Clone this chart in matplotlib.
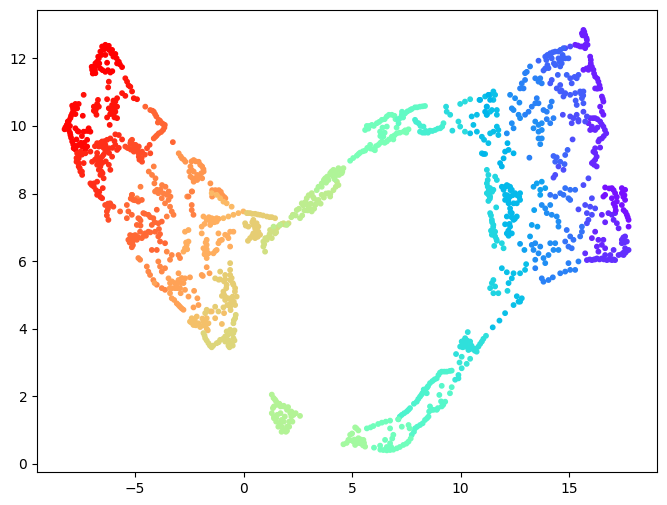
import matplotlib
matplotlib.use("Agg")
import matplotlib.pyplot as plt

# umap embedding, grouped by colour value (rainbow 0..1)
red_top = [(-6.37,12.4),(-6.52,12.35),(-6.21,12.37),(-6.6,12.2),(-6.06,12.25),(-5.91,12.13),(-6.67,12.0),(-5.75,11.9),(-6.83,11.85),(-6.9,11.7),(-5.6,11.74),(-6.75,11.78),(-6.37,12.1),(-6.29,11.87),(-6.37,11.6),(-6.14,11.58),(-5.83,11.85),(-6.83,11.56),(-6.98,11.66),(-6.45,12.3),(-6.3,12.3),
    (-6.45,12.25),(-6.7,12.05),(-6.75,11.9),(-6.95,11.55),(-6.65,11.85),(-6.6,11.7),(-6.1,12.15),(-6.0,12.05),(-5.85,12.0),(-5.7,11.82),(-6.5,11.65),(-6.25,11.65),(-6.05,11.62),(-7.0,11.75),(-6.85,11.65),(-6.55,12.1),(-6.2,12.25)]
red_side = [(-5.45,11.41),(-5.37,11.31),(-5.22,11.16),(-5.14,11.02),(-5.6,10.97),(-5.45,10.89),(-5.06,10.82),(-4.91,10.79),(-6.21,11.31),(-6.24,11.14),(-5.3,11.2)]
red_mid = [(-7.37,10.92),(-6.71,10.77),(-6.29,10.79),(-5.83,10.82),(-5.91,10.72),(-6.06,10.62),(-5.83,10.57),(-6.21,10.52),(-5.91,10.42),(-5.99,10.33),(-6.29,10.25),(-5.83,10.23),(-6.17,10.03),(-6.9,10.57),(-6.67,10.57),(-6.83,10.42),(-6.78,10.33),(-6.0,10.5),
    (-6.0,10.75),(-5.95,10.6),(-6.1,10.45),(-5.9,10.55),(-6.15,10.35),(-5.95,10.25),(-6.8,10.5),(-6.75,10.65),(-6.9,10.45)]
red_left = [(-7.75,10.65),(-7.6,10.65),(-7.86,10.52),(-7.9,10.37),(-7.67,10.52),(-7.98,10.23),(-7.41,10.3),(-8.1,10.13),(-8.21,9.96),(-8.06,9.88),(-7.98,9.73),(-7.75,9.93),(-7.6,9.83),(-7.37,9.83),(-7.14,9.93),(-7.06,9.83),(-7.9,9.54),(-7.83,9.34),(-7.6,9.44),(-7.44,9.39),(-7.21,9.59),(-7.21,9.39),(-8.15,10.03),(-8.0,10.0),(-7.85,10.45),(-7.7,9.4),
    (-7.8,10.6),(-7.95,10.3),(-8.05,10.15),(-8.1,10.05),(-8.25,9.9),(-8.1,9.95),(-8.0,9.8),(-7.95,9.65),(-7.85,9.45),(-7.7,9.6),(-7.75,9.3),(-7.5,9.5),(-7.35,9.5),(-7.3,9.3),(-7.65,9.85),(-7.45,9.7),(-7.2,9.85),(-7.9,10.6),(-7.75,10.35)]
red_low = [(-7.67,9.19),(-7.52,9.24),(-7.29,9.19),(-7.06,9.24),(-7.6,9.04),(-7.7,8.94),(-7.37,8.9),(-7.6,8.8),(-7.52,8.65),(-7.44,8.55),(-7.6,9.1),(-7.45,9.15),(-7.7,9.05),(-7.55,8.75),(-7.45,8.65),(-7.6,8.9)]
red_centre = [(-6.75,9.49),(-6.52,9.54),(-6.29,9.59),(-6.14,9.63),(-6.67,9.39),(-6.37,9.44),(-6.21,9.34),(-5.91,9.44),(-5.83,9.29),(-6.37,9.24),(-6.52,9.09),(-6.06,9.09),(-6.75,9.09),(-6.98,8.94),(-6.75,8.85),(-6.52,8.9),(-6.21,8.85),(-6.14,8.7),(-6.67,8.7),(-6.6,8.55),(-6.45,8.45),(-6.49,8.16),(-7.06,8.3),(-6.75,8.35),(-6.9,8.2),(-6.75,7.96),(-6.52,7.86),(-5.91,9.75),(-5.75,9.73),(-5.6,9.6),
    (-6.6,9.5),(-6.4,9.55),(-6.55,9.4),(-6.45,9.35),(-6.3,9.25),(-6.45,9.15),(-6.6,9.0),(-6.7,8.95),(-6.6,8.8),(-6.55,8.65),(-6.5,8.6),(-6.35,8.95),(-6.2,9.2),(-5.95,9.55),(-6.85,9.4),(-6.75,9.2),(-6.85,9.0),(-6.9,8.3),(-6.8,8.1),(-6.65,8.05),(-6.6,7.9),(-7.0,8.25),(-5.75,9.35),(-6.05,9.35)]
orange_red = [(-5.45,9.39),(-5.29,9.34),(-5.14,9.59),(-5.22,9.49),(-4.98,9.44),(-4.83,9.39),(-5.06,9.24),(-4.68,9.24),(-4.45,9.34),(-4.33,9.44),(-4.83,9.09),(-4.68,8.94),(-4.3,9.19),(-6.15,7.71),(-6.0,7.61),(-6.38,7.66),(-6.3,7.47),(-6.23,7.22),
    (-5.35,9.35),(-5.2,9.3),(-5.1,9.45),(-5.05,9.35),(-4.9,9.3),(-4.75,9.2),(-4.8,9.0),(-4.7,9.05),(-4.55,9.15),(-4.85,9.2),(-5.2,9.55),(-6.1,7.65),(-6.25,7.55),(-6.3,7.35),(-6.25,7.7)]
orange_arc = [(-4.53,10.57),(-4.3,10.47),(-4.14,10.42),(-4.02,10.28),(-3.91,10.18),(-3.76,10.08),(-3.63,10.03),(-3.71,9.88),(-3.91,9.78),(-4.06,9.68),(-4.14,9.63),(-3.26,9.52),(-4.2,10.45),(-4.08,10.35),(-3.85,10.15),(-3.7,10.05),(-3.65,9.95),(-3.8,9.82),(-4.0,9.72),(-3.95,10.1)]
orange_a = [(-4.14,8.8),(-4.37,8.65),(-4.22,8.55),(-4.06,8.45),(-4.11,8.3),(-4.75,8.2),(-5.14,7.96),(-4.91,7.86),(-3.76,8.25),(-3.6,8.2),(-3.99,8.11),(-3.83,8.11),(-3.45,8.06),(-3.37,7.91),(-3.68,8.0)]
orange_b = [(-2.99,9.19),(-2.84,9.04),(-2.68,8.94),(-2.3,8.99),(-2.07,8.94),(-1.91,8.8),(-1.84,8.65),(-2.45,8.8),(-2.3,8.65),(-2.45,8.5),(-2.14,8.55),(-1.91,8.45),(-2.3,8.35),(-2.14,8.4),(-1.53,8.3),(-1.45,8.1),(-1.14,8.1),(-0.99,7.96),(-0.84,7.86),(-1.45,7.91),(-2.37,8.06),(-2.6,7.91),
    (-2.75,9.0),(-2.4,8.95),(-2.2,8.95),(-2.0,8.85),(-1.85,8.72),(-1.95,8.6),(-2.05,8.5),(-2.2,8.45),(-2.35,8.45),(-2.5,8.65),(-2.9,9.1),(-2.4,8.7),(-1.3,8.1),(-1.05,8.05),(-0.9,7.9)]
orange_blob = [(-5.23,6.77),(-5.0,6.77),(-5.31,6.63),(-5.15,6.53),(-5.15,6.41),(-4.92,6.63),(-4.69,6.68),(-4.54,6.82),(-4.39,6.87),(-4.77,6.87),(-4.92,7.07),(-4.85,7.27),(-4.62,7.42),(-4.39,7.37),(-4.16,7.27),(-4.23,7.07),(-4.0,7.52),(-4.08,6.87),(-3.93,7.12),(-3.77,7.17),(-3.93,6.73),(-3.85,6.58),(-4.0,6.33),(-4.23,6.33),(-3.62,6.53),(-5.15,7.96),(-5.08,7.81),(-4.85,7.76),(-4.69,7.81),(-5.38,7.66),(-5.69,7.47),(-5.31,7.47),(-5.15,7.37),(-5.38,7.27),
    (-5.1,6.75),(-5.2,6.65),(-5.1,6.6),(-5.25,6.55),(-5.05,6.7),(-4.85,6.7),(-4.6,6.75),(-4.5,6.75),(-4.3,6.85),(-5.1,6.47),(-4.95,6.75),(-4.3,7.3),(-4.55,7.4),(-4.75,7.2),(-4.1,7.15),(-3.9,6.95),(-3.85,6.8),(-5.0,7.8),(-5.2,7.85),(-4.8,7.25),(-4.75,7.05)]
orange_c = [(-3.54,7.96),(-3.46,7.81),(-3.62,7.71),(-3.39,7.61),(-3.31,7.47),(-3.23,7.37),(-3.54,7.32),(-3.77,7.86),(-3.93,8.01),(-4.08,8.06),(-2.54,7.91),(-2.39,8.06),(-2.39,7.66),(-2.39,7.51),(-2.31,7.37)]
orange_d = [(-4.85,6.09),(-4.77,6.04),(-3.54,6.28),(-3.31,6.18),(-3.39,6.04),(-3.0,6.18),(-2.93,6.09),(-3.93,5.99),(-3.85,5.84),(-3.77,5.69),(-3.62,5.79),(-4.46,5.84),(-4.39,5.69),(-4.31,5.59),(-4.16,5.44),(-4.0,5.3),(-3.77,5.2),(-3.62,5.15)]
peach_a = [(-3.46,5.49),(-3.39,5.35),(-3.16,5.35),(-3.0,5.64),(-3.0,5.44),(-2.7,5.49),(-2.47,5.52),(-2.77,5.35),(-2.93,5.2),(-2.7,5.15),(-3.16,5.2),(-3.39,5.05),(-3.31,4.9),(-3.08,4.75),(-2.93,4.65),(-2.77,4.56),(-2.54,4.95),(-2.28,5.12),(-2.13,4.9),(-2.31,4.63),(-2.08,4.7),(-1.93,5.59),(-1.7,5.82),(-1.57,5.64),(-1.88,5.56),
    (-3.3,5.4),(-3.1,5.3),(-2.9,5.35),(-2.85,5.5),(-3.05,5.2),(-2.9,5.05),(-3.2,4.85),(-3.0,4.7),(-2.85,4.6),(-3.3,5.2),(-3.4,5.2),(-4.1,5.35)]
peach_b = [(-2.7,6.87),(-2.54,6.92),(-2.54,6.58),(-2.62,6.48),(-2.7,6.38),(-2.77,6.28),(-1.85,6.38),(-1.7,6.63),(-1.7,6.48),(-1.77,6.28),(-1.62,6.23),(-1.7,6.09),(-1.39,6.23),(-1.24,6.33),(-1.16,6.53),(-1.0,6.63),(-0.85,6.78),(-0.62,6.87),(-0.47,6.87),(-0.7,6.68),(-0.62,6.43),(-1.16,6.82),(-1.85,7.32),(-1.7,7.22),(-1.47,7.27),(-1.24,7.17),(-1.93,7.02),(-1.93,6.82),(-1.54,7.07),(-1.24,7.27),
    (-1.7,7.25),(-1.55,7.2),(-1.35,7.15),(-1.15,7.25),(-1.8,7.1),(-1.4,7.25),(-1.6,7.3),(-1.75,6.55),(-1.7,6.35),(-1.8,6.2),(-1.3,6.3),(-1.1,6.6),(-0.75,6.75),(-2.6,6.35),(-2.65,6.55)]
peach_c = [(-0.93,7.27),(-0.7,7.32),(-0.47,7.37),(-0.24,7.42),(-0.01,7.47),(-1.47,8.01),(-1.24,7.96),(-1.08,7.86),(-0.93,7.76),(-0.78,7.71),(-0.55,7.61)]
sand_a = [(-0.62,5.94),(-0.62,5.74),(-0.62,5.59),(-0.85,5.59),(-1.08,5.69),(-1.31,5.49),(-1.08,5.46),(-0.85,5.46),(-0.62,5.44),(-0.47,5.3),(-0.39,5.2),(-0.78,5.3),(-0.93,5.1),(-1.0,4.97),(-0.85,4.95),(-0.7,4.9),(-0.32,4.95),(-0.55,4.8),(-0.39,4.7),(-0.62,4.65),(-0.93,4.63),(-1.31,4.65),(-1.16,4.51),(-1.54,4.51),(-1.77,4.46),(-1.7,4.56),
    (-0.55,5.5),(-0.5,5.35),(-0.8,5.2),(-0.9,5.0),(-0.85,4.85),(-0.6,4.75),(-0.45,4.8),(-0.5,4.95),(-0.6,4.55),(-0.75,4.7),(-0.9,5.4),(-1.15,5.45),(-0.4,5.1)]
sand_b = [(-2.39,4.31),(-2.16,4.36),(-2.47,4.21),(-2.31,4.11),(-2.08,4.16),(-1.85,4.21),(-1.7,4.31),(-1.62,4.16),(-1.7,4.0),(-1.31,4.31),(-1.0,4.14),(-0.9,4.46),(-1.47,4.51),(-2.25,4.25),(-2.2,4.1),(-2.0,4.05),(-1.85,4.1),(-1.75,4.15),(-1.9,4.3),(-2.4,4.18),(-1.65,3.95)]
sand_c = [(-1.85,3.87),(-1.77,3.72),(-1.62,3.57),(-1.47,3.45),(-1.24,3.57),(-1.08,3.67),(-0.85,3.77),(-0.78,3.92),(-0.85,3.62),(-0.65,3.45),(-0.55,3.57),(-0.47,3.72),(-0.47,3.87),(-0.62,3.97),(-0.47,4.16),(-0.39,4.31),(-0.36,4.41),
    (-1.8,3.8),(-1.7,3.65),(-1.55,3.5),(-1.4,3.5),(-1.15,3.6),(-0.95,3.7),(-0.7,3.5),(-0.5,3.5),(-0.42,3.65),(-0.55,3.85),(-0.75,3.8),(-0.42,3.95),(-0.68,3.65),(-0.45,4.25)]
yellow_a = [(0.15,7.42),(0.3,7.42),(0.53,7.4),(0.76,7.37),(1.07,7.32),(1.3,7.3),(1.45,7.27),(0.07,7.12),(0.22,7.02),(0.45,7.22),(0.45,7.07),(0.53,6.97),(0.68,7.02),(0.68,6.87),(0.45,6.82),(0.3,6.68),(0.53,6.68),(0.76,6.78),
    (0.2,7.42),(0.4,7.4),(0.65,7.38),(0.9,7.35),(1.2,7.3),(0.4,7.15),(0.55,6.85),(0.6,7.12),(0.1,7.05),(0.4,6.75),(0.2,6.6),(0.65,6.72)]
yellow_b = [(0.91,6.58),(1.07,6.63),(0.91,6.43),(0.99,6.28),(1.3,6.68),(1.45,6.82),(1.53,6.97),(1.68,7.07),(1.22,6.92),(1.37,6.97),(1.84,7.12),(2.07,7.12),(2.27,7.37),(0.95,6.5),(1.0,6.68),(1.15,6.72),(1.2,6.8),(1.4,6.88),(1.5,6.85),(1.6,7.02),(1.75,7.1),(1.9,7.08)]
lime_a = [(1.38,7.02),(1.68,7.07),(1.99,7.07),(2.3,7.37),(2.6,7.27),(2.45,7.51),(2.68,7.71),(2.91,7.86),(3.14,8.01),(2.99,7.61),(3.14,7.47),(3.3,7.66),(3.45,7.81),(3.6,7.96),(3.91,8.01),(4.14,8.1),(4.37,8.25),(3.99,7.91),(2.8,7.5),(3.25,7.85),
    (2.2,7.3),(2.4,7.35),(2.55,7.55),(2.75,7.65),(2.85,7.75),(3.0,7.95),(3.2,7.9),(3.05,7.55),(3.25,7.55),(3.35,7.7),(3.55,7.7),(3.7,7.88),(3.8,8.0),(4.0,8.0),(4.25,8.2),(4.3,8.35),(2.95,7.5),(2.7,7.35),(2.9,7.7),(3.1,7.7)]
lime_b = [(3.37,8.1),(3.6,8.3),(3.76,8.45),(3.99,8.6),(4.14,8.7),(4.37,8.75),(4.6,8.75),(4.52,8.6),(4.29,8.55),(4.14,8.5),(3.91,8.4),(3.45,8.2),(3.7,8.4),(3.85,8.5),(4.05,8.65),(4.25,8.65),(4.45,8.7),(4.4,8.55),(4.2,8.42),(3.8,8.32),(4.55,8.65),(4.05,8.55),(3.6,8.2)]
green_a = [(4.91,8.97),(5.22,9.12),(5.37,9.21),(5.6,9.27),(5.83,9.44),(5.98,9.31),(6.21,9.44),(6.37,9.54),(6.6,9.54),(6.83,9.68),(7.06,9.78),(7.37,9.83),(7.6,9.9),(5.05,9.05),(5.5,9.25),(5.7,9.35),(6.1,9.4),(6.3,9.5),(6.5,9.5),(6.7,9.6),(6.95,9.72),(7.2,9.8),(7.45,9.87),(7.5,9.8),(6.9,9.6),(5.3,9.17),(5.85,9.33),(6.05,9.28)]
green_b = [(5.6,9.88),(5.68,10.0),(5.91,10.03),(6.14,10.08),(6.37,10.18),(6.6,10.28),(6.83,10.33),(6.29,9.83),(6.44,9.68),(6.6,9.98),(5.75,9.92),(5.8,10.0),(6.0,10.0),(6.25,10.12),(6.5,10.2),(6.7,10.33),(6.95,10.3),(6.4,9.95),(6.5,9.8),(6.3,9.7),(7.0,10.2),(7.05,9.95)]
mint_a = [(7.14,10.08),(7.21,10.23),(7.44,10.37),(7.67,10.47),(7.9,10.55),(8.13,10.57),(8.36,10.59),(7.29,10.33),(7.3,10.42),(7.55,10.43),(7.75,10.5),(8.0,10.55),(8.25,10.58),(7.1,10.2),(7.35,10.25)]
mint_b = [(7.9,10.18),(8.06,10.08),(8.29,9.98),(8.13,9.83),(8.36,9.8),(8.59,9.86),(8.83,9.88),(9.06,9.93),(9.21,10.08),(7.95,10.12),(8.15,10.0),(8.4,9.85),(8.7,9.85),(8.95,9.92),(9.15,9.98),(8.25,9.8),(8.5,9.8)]
teal_a = [(9.33,10.57),(9.36,10.42),(9.52,10.33),(9.62,9.86),(9.9,10.13),(9.98,9.98),(10.2,9.83),(9.98,10.65),(10.2,10.72),(10.44,10.79)]
cyan_a = [(10.51,10.28),(10.75,10.33),(10.59,10.03),(10.44,9.78),(10.75,9.83),(10.98,9.68),(11.08,9.59),(11.28,9.49),(10.98,9.19),(11.13,9.17),(10.87,10.77),(11.13,10.87),(11.36,10.92),(11.51,10.77),(11.2,10.57),(11.36,10.42),(11.67,10.47),(11.2,10.33),(11.51,9.83),(11.36,9.78),(11.74,9.88),(11.51,11.02),(11.59,10.92),(11.44,10.47),(11.67,10.33),(11.67,9.98),(11.74,9.73)]
purple_top = [(15.66,12.84),(15.74,12.69),(15.59,12.74),(15.82,12.54),(15.85,12.4),(15.74,12.3),(15.51,12.35),(15.28,12.4),(15.97,12.05),(16.0,11.85),(16.12,11.66),(16.2,11.46),(16.35,11.31),(16.43,11.11),(16.2,11.11),(15.66,11.66),(15.89,11.66),(16.51,10.87),(16.58,10.72),(16.43,10.57),(16.51,10.42),(16.58,10.33),
    (15.7,12.78),(15.62,12.68),(15.8,12.6),(15.75,12.4),(15.6,12.35),(15.4,12.38),(16.0,11.95),(16.05,11.75),(16.15,11.55),(16.3,11.4),(16.4,11.2),(16.3,11.1),(15.8,11.7),(16.55,10.8),(15.95,11.75)]
violet_a = [(15.97,10.23),(16.2,10.23),(16.43,10.13),(16.58,9.98),(16.71,9.78),(16.51,9.63),(16.35,9.54),(16.05,9.98),(15.89,10.08),(16.2,9.88),(15.97,9.88),(16.2,9.34),(16.43,9.36),(16.12,9.24),(16.27,9.09),(16.12,8.94),(16.27,8.8),(16.05,8.9),(16.1,10.23),(16.3,10.2),(16.5,10.05),(16.65,9.88),(16.6,9.7),(16.4,9.6),(16.1,9.9),(16.3,9.95),(16.2,9.2),(16.2,9.0),(16.15,8.85)]
indigo_a = [(15.66,10.42),(15.82,10.28),(15.74,10.13),(15.35,10.33),(15.05,10.28),(15.2,10.23),(15.43,10.18),(15.12,10.08),(15.43,10.13),(14.71,10.33),(15.16,9.6),(15.05,12.35),(14.82,12.3),(15.43,7.53),(15.74,7.66),(15.97,7.61),(16.2,7.56),(15.82,7.42),(16.05,7.37),(15.89,7.22),(15.82,7.12),(16.05,7.86),(15.66,8.25),(14.74,8.7),(14.51,8.8),(14.36,8.55),(14.28,8.47),(15.89,8.45)]
blue_top = [(13.59,11.93),(13.9,12.05),(14.13,12.15),(14.36,12.2),(14.51,12.2),(14.74,12.3),(14.2,12.0),(14.51,12.0),(14.82,12.0),(14.97,12.0),(14.66,11.85),(14.59,11.76),(14.05,11.71),(13.82,11.64),(14.36,11.8),(14.48,11.51),(14.89,11.51),(14.93,9.29),(14.82,9.14),(14.28,9.11),(14.43,9.07),(14.59,8.94),(14.79,8.87),(14.36,8.94),
    (14.0,12.1),(14.25,12.18),(14.6,12.25),(14.15,12.05),(13.95,11.95),(14.55,11.9),(14.7,12.1),(14.3,11.85),(14.0,11.8),(13.9,11.7),(14.7,12.0)]
blue_mid = [(14.13,11.26),(14.2,11.36),(14.59,11.21),(14.43,11.11),(14.59,11.02),(14.82,10.97),(15.05,10.92),(14.74,10.87),(15.12,11.26),(15.05,11.41),(15.35,11.41),(15.43,11.51),(15.66,11.02),(15.51,11.02),(15.59,10.82),(15.66,10.67),(15.35,10.62),(15.28,10.97),(14.8,10.95),(14.65,11.05),(15.3,10.75),(15.55,10.95),(15.65,10.9),(15.25,11.45)]
blue_left = [(13.2,11.76),(13.05,11.6),(12.97,11.56),(12.97,11.36),(12.82,11.26),(12.74,11.11),(12.9,11.11),(13.44,11.41),(13.67,11.41),(13.74,11.26),(13.59,11.31),(13.17,9.06),(13.51,10.82),(13.44,10.67),(13.28,10.57),(13.13,10.42),(12.97,10.33),(13.59,10.67),(14.2,10.72),(14.13,10.57),(13.97,10.42),(13.82,10.47),(14.28,10.23),(13.97,10.2),(14.13,10.08)]
azure_a = [(12.44,10.47),(12.36,10.52),(12.67,10.33),(12.74,10.23),(12.28,10.92),(12.51,10.82),(12.71,10.69),(12.36,10.08),(12.44,9.93),(12.13,9.78),(13.44,10.13),(13.59,10.03),(13.74,10.08),(13.36,9.93),(13.59,9.83),(13.74,9.88),(13.59,9.63),(13.74,9.63),(13.67,9.46)]
azure_b = [(12.16,9.49),(12.21,9.29),(12.44,9.19),(12.05,9.24),(11.98,9.04),(11.82,8.9),(11.9,8.8),(11.05,9.17),(10.9,10.77),(11.28,10.92),(11.36,10.77),(11.21,10.57),(11.13,10.42),(11.21,10.33)]
cyan_left = [(11.21,8.7),(11.28,8.55),(11.21,8.3),(11.36,8.16),(11.21,8.01),(11.36,7.91),(11.28,7.78),(11.51,8.11),(11.59,8.5),(11.67,8.4),(11.64,7.59),(11.36,7.42),(11.44,7.22),(11.51,7.07),(11.59,6.87),(11.44,6.78),(11.59,6.73),(11.67,6.6),(11.9,6.53),(11.55,6.45),(11.98,6.38),(11.3,8.1),(11.4,6.9),
    (11.25,8.4),(11.25,8.2),(11.3,7.95),(11.35,7.85),(11.4,7.35),(11.45,7.15),(11.5,7.0),(11.55,6.8),(11.65,6.65),(11.3,8.0),(11.45,8.05)]
cyan_b = [(11.9,8.2),(12.13,8.25),(12.28,8.2),(11.98,8.11),(12.36,8.11),(12.05,7.96),(12.28,7.91),(12.51,8.01),(12.74,8.01),(12.74,7.81),(12.05,7.81),(12.21,7.71),(12.44,7.71),(12.59,7.71),(12.28,7.56),(12.36,7.42),(12.13,7.32),(12.59,7.32),(12.44,7.22),(12.05,7.09),(12.28,7.02),(12.13,6.82),(12.36,6.82),(12.21,6.75),
    (12.05,8.2),(12.2,8.22),(12.3,8.1),(12.15,7.95),(12.4,7.95),(12.6,7.95),(12.7,7.9),(12.2,7.8),(12.35,7.3),(12.25,7.1),(12.2,6.9),(12.3,7.45),(12.5,7.25)]
sky_a = [(13.39,7.51),(13.28,7.07),(13.54,7.02),(13.2,6.73),(12.74,6.51),(12.94,6.33),(13.36,8.2),(13.51,8.3),(13.74,8.35),(13.67,8.11),(13.9,8.16),(13.67,7.96)]
royal_a = [(14.13,7.96),(14.36,7.91),(14.59,8.01),(14.82,8.16),(15.05,8.11),(15.28,8.11),(14.74,7.96),(15.05,7.81),(14.97,7.86),(14.89,6.92),(15.05,6.73),(14.82,6.58),(14.97,6.43),(15.2,6.63),(15.51,6.73),(15.59,6.87),(15.59,7.02),(15.12,6.38)]
royal_b = [(13.74,7.66),(13.9,7.56),(14.13,7.66),(13.97,7.42),(14.2,7.37),(14.43,7.32),(14.51,7.17),(14.51,7.02),(13.28,6.48),(13.44,6.53),(13.67,6.43),(13.36,6.33),(13.59,6.23),(13.44,6.04),(13.82,6.09),(14.05,6.18),(14.13,6.53),(14.36,6.53),(14.28,6.33),(14.51,6.33),(13.9,5.94)]
royal_c = [(13.44,5.79),(13.74,5.49),(13.82,5.39),(14.05,5.44),(14.25,5.52),(14.59,5.64),(14.82,5.69),(14.97,5.94),(15.05,5.74),(15.28,5.74),(15.43,5.99)]
sky_b = [(11.9,5.79),(12.13,5.67),(12.44,5.64),(12.74,5.64),(12.97,5.74),(13.02,5.91),(12.36,5.49),(12.21,5.35),(12.59,4.96),(12.82,4.9),(12.67,4.8),(12.44,4.7),(12.05,4.46),(11.48,4.04),(11.79,4.24),(12.74,4.8)]
aqua_a = [(11.51,5.44),(11.36,5.2),(11.59,5.25),(11.51,5.05),(11.74,5.05),(12.16,5.12),(11.44,5.35)]
violet_b = [(16.51,7.37),(16.81,7.42),(16.97,7.37),(17.12,7.42),(17.05,7.22),(17.2,7.12),(17.28,6.97),(16.66,7.15),(16.2,6.87),(16.05,6.68),(16.35,6.63),(16.58,6.63),(16.28,6.43),(16.51,6.48),(16.66,6.38),(16.35,6.28)]
violet_c = [(16.66,8.18),(16.97,8.16),(17.12,8.01),(16.97,7.86),(17.2,7.76),(17.12,7.61),(17.43,8.16),(17.58,8.11),(17.43,8.01),(17.58,7.81),(17.43,7.66),(17.51,7.51),(17.66,7.37),(17.74,7.22),(17.74,7.02),(16.58,7.91),(16.66,7.96),(17.5,8.1),(17.5,7.9),(17.55,7.95),(17.6,7.45),(17.7,7.3),(17.05,8.1),(17.05,7.7),(17.15,7.5),(16.85,8.15),(17.2,7.9)]
violet_d = [(15.74,6.23),(15.82,6.03),(16.05,6.03),(16.28,6.08),(16.51,6.08),(16.74,6.03),(16.97,6.03),(17.12,6.03),(16.66,6.18),(16.9,6.18),(17.05,6.33),(17.28,6.18),(17.51,6.18),(17.58,6.38),(17.74,6.33),(17.66,6.58),(17.43,6.53),(17.58,6.73),(17.43,6.63),
    (16.2,6.05),(16.4,6.05),(16.6,6.05),(16.85,6.05),(17.05,6.05),(17.5,6.25),(17.65,6.3),(17.55,6.55),(17.5,6.7),(17.6,6.25),(16.15,6.05),(15.95,6.05),(17.4,6.2)]
turq_a = [(10.33,3.9),(10.21,3.72),(10.05,3.62),(9.98,3.47),(10.21,3.47),(10.44,3.62),(10.36,3.37),(10.59,3.42),(10.74,3.32),(10.82,3.47),(10.98,3.62),(11.17,3.79),(9.79,3.25),(10.1,3.55),(10.3,3.5),(10.15,3.65),(10.1,3.45),(10.3,3.65),(10.2,3.6),(10.5,3.5),(10.7,3.4),(10.9,3.55),(11.05,3.7),(10.05,3.5),(10.45,3.4),(10.65,3.35)]
turq_b = [(10.05,3.17),(9.95,3.0),(10.44,3.11),(10.28,2.96),(10.05,2.83),(9.9,2.63),(9.75,2.49),(9.9,2.53)]
sea_a = [(9.59,2.76),(9.36,2.73),(9.13,2.73),(8.98,2.63),(8.9,2.53),(8.59,2.39),(8.36,2.19),(8.44,2.09),(8.13,1.99),(7.98,1.84),(7.67,1.65),(7.52,1.55),(7.29,1.45),(7.13,1.32),(8.7,2.45),(8.25,2.1),(9.5,2.75),(9.25,2.73),(9.05,2.7),(8.8,2.5),(8.5,2.3),(8.3,2.2),(8.05,1.92),(7.85,1.78),(7.6,1.6),(7.4,1.5),(7.2,1.4),(8.2,2.05),(8.45,2.25)]
sea_b = [(9.59,2.27),(9.51,2.09),(9.13,2.31),(9.02,2.04),(9.29,1.84),(9.13,1.7),(8.9,1.6),(8.59,1.7),(8.67,1.6),(8.52,1.4),(8.36,1.3),(8.13,1.15),(7.9,1.05),(7.75,0.86),(8.95,1.65),(8.75,1.6),(8.55,1.55),(8.45,1.35),(8.25,1.2),(8.0,1.1),(7.85,0.95),(9.1,1.85),(9.2,1.75)]
pale_a = [(7.6,0.66),(7.36,0.56),(7.06,0.46),(6.75,0.41),(6.44,0.41),(7.6,1.15),(7.29,1.1),(6.9,0.86),(6.52,0.71),(6.75,0.61),(6.01,0.48),(6.29,0.54),(7.13,1.32),(6.75,1.28),(6.37,1.22),(5.98,1.12),(5.68,1.05),(6.75,1.05),(7.7,0.75),(7.5,0.6),(7.2,0.5),(6.9,0.42),(6.6,0.4),(6.3,0.42),(6.6,0.5),(6.85,0.75),(6.8,0.5),(6.55,1.25),(6.2,1.18),(5.85,1.08),(7.65,1.05)]
pale_b = [(5.14,1.08),(5.29,0.99),(4.91,0.86),(4.83,0.71),(4.6,0.58),(5.06,0.66),(5.29,0.76),(5.52,0.71),(5.6,0.51),(5.37,0.61),(5.14,0.56),(5.2,1.05),(5.0,0.9),(4.9,0.7),(4.75,0.62),(5.1,0.72),(5.4,0.72),(5.5,0.55),(5.25,0.62),(5.55,0.62)]
island = [(1.3,2.05),(1.45,1.9),(1.55,1.75),(1.7,1.7),(1.85,1.7),(2.0,1.6),(2.15,1.5),(2.3,1.45),(2.6,1.42),(1.35,1.65),(1.3,1.5),(1.4,1.35),(1.5,1.25),(1.6,1.1),(1.75,0.95),(1.95,0.95),(2.0,1.1),(2.1,1.25),(1.75,1.3),(1.55,1.45),(1.9,1.4),
    (1.38,1.95),(1.5,1.85),(1.65,1.78),(1.85,1.72),(2.05,1.68),(2.2,1.55),(2.4,1.5),(1.4,1.7),(1.4,1.4),(1.5,1.35),(1.65,1.2),(1.75,1.1),(1.85,1.0),(2.0,0.98),(2.1,1.1),(2.25,1.25),(1.7,1.5),(1.85,1.25),(2.2,1.4)]

groups = [
    (red_top, 1.0), (red_side, 0.97), (red_mid, 0.975), (red_left, 0.99), (red_low, 0.95),
    (red_centre, 0.94), (orange_red, 0.9), (orange_arc, 0.87), (orange_a, 0.83), (orange_b, 0.8),
    (orange_blob, 0.865), (orange_c, 0.83), (orange_d, 0.82), (peach_a, 0.78), (peach_b, 0.76),
    (peach_c, 0.74), (sand_a, 0.7), (sand_b, 0.73), (sand_c, 0.68), (yellow_a, 0.7),
    (yellow_b, 0.66), (lime_a, 0.62), (lime_b, 0.59), (green_a, 0.49), (green_b, 0.47),
    (mint_a, 0.44), (mint_b, 0.39), (teal_a, 0.33), (cyan_a, 0.27), (purple_top, 0.04),
    (violet_a, 0.05), (indigo_a, 0.1), (blue_top, 0.13), (blue_mid, 0.12), (blue_left, 0.17),
    (azure_a, 0.19), (azure_b, 0.25), (cyan_left, 0.32), (cyan_b, 0.26), (sky_a, 0.22),
    (royal_a, 0.15), (royal_b, 0.19), (royal_c, 0.17), (sky_b, 0.27), (aqua_a, 0.31),
    (violet_b, 0.05), (violet_c, 0.02), (violet_d, 0.06), (turq_a, 0.34), (turq_b, 0.36),
    (sea_a, 0.4), (sea_b, 0.42), (pale_a, 0.47), (pale_b, 0.57), (island, 0.6),
]

xs, ys, cs = [], [], []
for pts, c in groups:
    for x, y in pts:
        xs.append(x)
        ys.append(y)
        cs.append(c)

fig = plt.figure(figsize=(6.67, 5.05), dpi=100)
ax = fig.add_axes([37 / 667, 1 - 472 / 505, 620 / 667, 462 / 505])
ax.scatter(xs, ys, c=cs, cmap="rainbow", vmin=0, vmax=1, s=10)
ax.set_xlim(-9.52, 19.05)
ax.set_ylim(-0.24, 13.43)
fig.savefig("out.png", dpi=100)
